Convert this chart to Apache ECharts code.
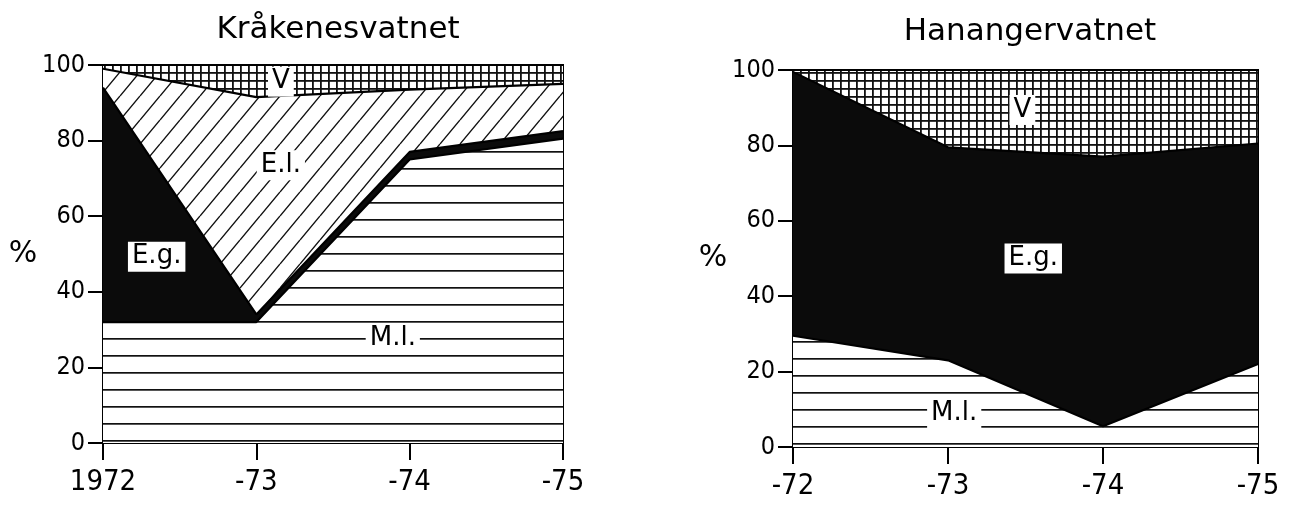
<!DOCTYPE html>
<html>
<head>
<meta charset="utf-8">
<script src="https://cdn.jsdelivr.net/npm/echarts@6/dist/echarts.min.js"></script>
<style>
html,body{margin:0;padding:0;background:#fff;}
#chart{width:1293px;height:506px;}
</style>
</head>
<body>
<div id="chart"></div>
<script>
// ---- data ----
const leftTitle = 'Kråkenesvatnet';
const rightTitle = 'Hanangervatnet';
const leftTicks = ['1972', '-73', '-74', '-75'];
const rightTicks = ['-72', '-73', '-74', '-75'];
// Kråkenesvatnet (% composition, stacked from bottom)
const leftML = [32, 32, 75, 80.5];
const leftEG = [62, 2, 2, 2];
const leftEL = [5, 57.5, 16.5, 12.5];
const leftV  = [1, 8.5, 6.5, 5];
// Hanangervatnet
const rightML = [29.5, 23, 5.5, 22];
const rightEG = [70, 56.5, 71.5, 58.5];
const rightV  = [0.5, 20.5, 23, 19.5];
// area labels: [text, x (year index), y (%)]
const leftLabels = [['V', 1.16, 95.6], ['E.l.', 1.16, 73.5], ['E.g.', 0.35, 49.3], ['M.l.', 1.89, 27.7]];
const rightLabels = [['V', 1.48, 89.4], ['E.g.', 1.55, 50], ['M.l.', 1.04, 9]];

// ---- fonts ----
function hasFont(name){
  const c = document.createElement('canvas').getContext('2d');
  c.font = '40px monospace';
  const a = c.measureText('1972 abcM').width;
  c.font = "40px '" + name + "', monospace";
  return c.measureText('1972 abcM').width !== a;
}
const narrow = hasFont('Liberation Sans Narrow');
const tickFont = narrow ? 'Liberation Sans Narrow' : 'DejaVu Sans Condensed';
const xFontSize = narrow ? 34 : 29;
const yFontSize = narrow ? 28 : 25;

// ---- patterns ----
function makeCanvas(w, h){
  const c = document.createElement('canvas');
  c.width = w; c.height = h;
  const g = c.getContext('2d');
  g.fillStyle = '#fff'; g.fillRect(0, 0, w, h);
  return [c, g];
}
function hLines(offset){
  const [c, g] = makeCanvas(8, 17);
  g.fillStyle = '#111';
  g.fillRect(0, offset, 8, 1.7);
  return {image: c, repeat: 'repeat'};
}
function diag(){
  const [c, g] = makeCanvas(20, 24);
  g.strokeStyle = '#111'; g.lineWidth = 1.4;
  g.beginPath();
  g.moveTo(0, 24); g.lineTo(20, 0);
  g.moveTo(-20, 24); g.lineTo(0, 0);
  g.moveTo(20, 24); g.lineTo(40, 0);
  g.stroke();
  return {image: c, repeat: 'repeat'};
}
function grid(){
  const [c, g] = makeCanvas(8, 8);
  g.fillStyle = '#111';
  g.fillRect(0, 0, 8, 1.8);
  g.fillRect(0, 0, 1.8, 8);
  return {image: c, repeat: 'repeat'};
}
const solid = '#0b0b0b';

function area(name, data, color, idx, stack){
  return {
    name: name, type: 'line', stack: stack, xAxisIndex: idx, yAxisIndex: idx,
    data: data, symbol: 'none', smooth: false,
    lineStyle: {color: '#000', width: 2.2},
    areaStyle: {color: color, opacity: 1},
    silent: true, z: 2
  };
}
function labels(list, xIdx, yIdx){
  return {
    type: 'scatter', xAxisIndex: xIdx, yAxisIndex: yIdx, z: 10,
    symbol: 'circle', symbolSize: 1, itemStyle: {color: '#fff', opacity: 1},
    data: list.map(l => ({name: l[0], value: [l[1], l[2]]})),
    label: {
      show: true, position: 'inside', formatter: p => p.name,
      color: '#000', opacity: 1, fontSize: 26, fontFamily: 'DejaVu Sans',
      backgroundColor: '#fff', padding: [3, 4, 1, 4]
    },
    emphasis: {disabled: true},
    silent: true
  };
}
function xAxis(idx, ticks){
  return {
    type: 'category', gridIndex: idx, data: ticks, boundaryGap: false,
    axisLine: {show: true, lineStyle: {color: '#000', width: 2}},
    axisTick: {show: true, inside: false, length: 17, alignWithLabel: true, lineStyle: {color: '#000', width: 2}},
    splitLine: {show: false},
    axisLabel: {margin: 25, color: '#000', fontSize: xFontSize, fontFamily: tickFont, showMinLabel: true, showMaxLabel: true, interval: 0}
  };
}
function hiddenX(idx){
  return {type: 'value', gridIndex: idx, min: 0, max: 3, interval: 1, show: false,
          axisLine: {show: false}, axisTick: {show: false}, axisLabel: {show: false}, splitLine: {show: false}};
}
function yAxis(idx, gap){
  return {
    type: 'value', gridIndex: idx, min: 0, max: 100, interval: 20,
    name: '%', nameLocation: 'middle', nameRotate: 0, nameGap: gap,
    nameTextStyle: {color: '#000', fontSize: 30, fontFamily: 'DejaVu Sans'},
    axisLine: {show: true, lineStyle: {color: '#000', width: 2}},
    axisTick: {show: true, inside: false, length: 15, lineStyle: {color: '#000', width: 2}},
    splitLine: {show: false},
    axisLabel: {margin: 18, color: '#000', fontSize: yFontSize, fontFamily: tickFont}
  };
}

const chart = echarts.init(document.getElementById('chart'), null, {renderer: 'canvas'});
chart.setOption({
  backgroundColor: '#fff',
  animation: false,
  title: [
    {text: leftTitle, left: 333, top: 9, textAlign: 'center',
     textStyle: {fontSize: 31, fontWeight: 'normal', color: '#000', fontFamily: 'DejaVu Sans'}},
    {text: rightTitle, left: 1025, top: 11, textAlign: 'center',
     textStyle: {fontSize: 31, fontWeight: 'normal', color: '#000', fontFamily: 'DejaVu Sans'}}
  ],
  grid: [
    {left: 103, top: 65, width: 460, height: 378, show: true, borderColor: '#000', borderWidth: 2, backgroundColor: '#fff'},
    {left: 793, top: 70, width: 465, height: 377, show: true, borderColor: '#000', borderWidth: 2, backgroundColor: '#fff'}
  ],
  xAxis: [xAxis(0, leftTicks), xAxis(1, rightTicks), hiddenX(0), hiddenX(1)],
  yAxis: [yAxis(0, 60), yAxis(1, 58)],
  series: [
    area('M.l.', leftML, hLines(15), 0, 'L'),
    area('E.g.', leftEG, solid, 0, 'L'),
    area('E.l.', leftEL, diag(), 0, 'L'),
    area('V', leftV, grid(), 0, 'L'),
    labels(leftLabels, 2, 0),
    area('M.l.', rightML, hLines(1), 1, 'R'),
    area('E.g.', rightEG, solid, 1, 'R'),
    area('V', rightV, grid(), 1, 'R'),
    labels(rightLabels, 3, 1)
  ]
});
</script>
</body>
</html>
